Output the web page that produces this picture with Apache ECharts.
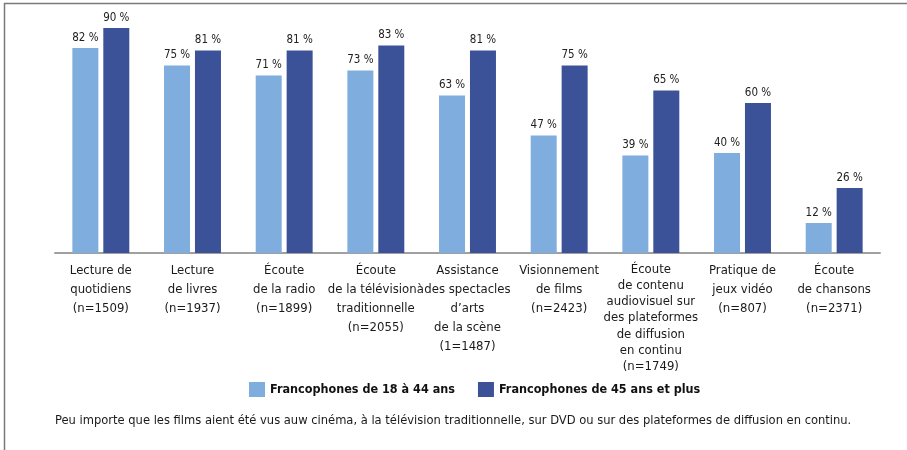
<!DOCTYPE html>
<html><head><meta charset="utf-8">
<script src="https://cdn.jsdelivr.net/npm/echarts@6/dist/echarts.min.js"></script>
<style>html,body{margin:0;padding:0;background:#fff}#c{width:907px;height:450px}</style>
</head><body><div id="c"></div>
<script>
const categories = [
  "Lecture de\nquotidiens\n(n=1509)",
  "Lecture\nde livres\n(n=1937)",
  "Écoute\nde la radio\n(n=1899)",
  "Écoute\nde la télévisionà\ntraditionnelle\n(n=2055)",
  "Assistance\ndes spectacles\nd’arts\nde la scène\n(1=1487)",
  "Visionnement\nde films\n(n=2423)",
  "Écoute\nde contenu\naudiovisuel sur\ndes plateformes\nde diffusion\nen continu\n(n=1749)",
  "Pratique de\njeux vidéo\n(n=807)",
  "Écoute\nde chansons\n(n=2371)"
];
const seriesNames = ["Francophones de 18 à 44 ans", "Francophones de 45 ans et plus"];
const young = [82, 75, 71, 73, 63, 47, 39, 40, 12];
const older = [90, 81, 81, 83, 81, 75, 65, 60, 26];
const footnote = "Peu importe que les films aient été vus auw cinéma, à la télévision traditionnelle, sur DVD ou sur des plateformes de diffusion en continu.";

const FONT = "'DejaVu Sans Condensed', 'Liberation Sans Narrow', sans-serif";
const chart = echarts.init(document.getElementById('c'), null, {renderer: 'canvas'});
const lbl = {show: true, position: 'top', distance: 4, formatter: p => p.value + ' %', fontFamily: FONT, fontSize: 11.5, color: '#222'};
chart.setOption({
  animation: false,
  textStyle: {fontFamily: FONT},
  grid: {left: 55, right: 27, top: 3, bottom: 197, containLabel: false},
  legend: {
    left: 244, top: 377, itemWidth: 16, itemHeight: 15, itemGap: 23, icon: 'rect',
    textStyle: {fontFamily: FONT, fontSize: 12.5, fontWeight: 'bold', color: '#111', padding: [0,0,0,0]},
    data: seriesNames
  },
  xAxis: {
    type: 'category', data: categories,
    axisLine: {lineStyle: {color: '#a0a0a0', width: 2}},
    axisTick: {show: false},
    axisLabel: {
      interval: 0, fontFamily: FONT, fontSize: 13, lineHeight: 19, color: '#1a1a1a', margin: 8,
      formatter: (v) => v.split('\n').length > 5
        ? v.split('\n').map(s => '{t|' + s + '}').join('\n')
        : v,
      rich: {t: {fontFamily: FONT, fontSize: 13, lineHeight: 16.3, color: '#1a1a1a'}}
    }
  },
  yAxis: {type: 'value', min: 0, max: 100, show: false, splitLine: {show: false}},
  series: [
    {name: seriesNames[0], type: 'bar', data: young, barWidth: 26, barGap: '19%', itemStyle: {color: '#7FAEDE'}, label: lbl},
    {name: seriesNames[1], type: 'bar', data: older, barWidth: 26, itemStyle: {color: '#3C5298'}, label: lbl}
  ],
  graphic: [
    {type: 'line', shape: {x1: 4, y1: 3.5, x2: 907, y2: 3.5}, style: {stroke: '#7a7a7a', lineWidth: 1.5}},
    {type: 'line', shape: {x1: 4.5, y1: 3, x2: 4.5, y2: 450}, style: {stroke: '#7a7a7a', lineWidth: 1.5}},
    {type: 'text', left: 55, top: 414, style: {text: footnote, fontFamily: FONT, fontSize: 12.8, fill: '#1a1a1a'}}
  ]
});
</script></body></html>
